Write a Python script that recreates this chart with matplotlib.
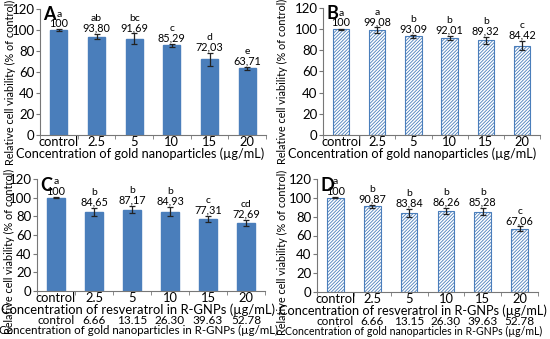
import matplotlib.pyplot as plt
import numpy as np

plt.rcParams['font.family'] = ['Lato', 'DejaVu Sans']
plt.rcParams['hatch.linewidth'] = 0.6

cats = ['control', '2.5', '5', '10', '15', '20']
gold_cats = ['control', '6.66', '13.15', '26.30', '39.63', '52.78']

vals_a = [100, 93.80, 91.69, 85.29, 72.03, 63.71]
err_a = [0.5, 2.5, 5.0, 1.5, 6.5, 1.5]
let_a = ['a', 'ab', 'bc', 'c', 'd', 'e']

vals_b = [100, 99.08, 93.09, 92.01, 89.32, 84.42]
err_b = [0.5, 2.5, 1.0, 2.0, 3.5, 4.5]
let_b = ['a', 'a', 'b', 'b', 'b', 'c']

vals_c = [100, 84.65, 87.17, 84.93, 77.31, 72.69]
err_c = [0.5, 4.0, 4.0, 5.0, 3.0, 3.0]
let_c = ['a', 'b', 'b', 'b', 'c', 'cd']

vals_d = [100, 90.87, 83.84, 86.26, 85.28, 67.06]
err_d = [0.5, 2.0, 4.5, 3.0, 4.0, 2.5]
let_d = ['a', 'b', 'b', 'b', 'b', 'c']

W, H = 550, 339
fig = plt.figure(figsize=(W / 100, H / 100), dpi=100)

blue = '#4a7ebb'


def px_axes(left, right, y0, y120):
    return fig.add_axes([left / W, (H - y0) / H, (right - left) / W, (y0 - y120) / H])


def panel(ax, vals, errs, lets, tag, hatched, xlabel, ylab_xy, xlab_x, xlab_size,
          second=False, second_size=7.8):
    x = np.arange(len(cats))
    if hatched:
        ax.bar(x, vals, width=0.45, color='white', edgecolor=blue, hatch='//////////', lw=0.8)
    else:
        ax.bar(x, vals, width=0.45, color=blue, edgecolor=blue)
    ax.errorbar(x, vals, yerr=errs, fmt='none', ecolor='#222222', elinewidth=0.9, capsize=2.2, capthick=0.9)
    for xi, v, e, l in zip(x, vals, errs, lets):
        top = v + e + 0.5
        ax.text(xi, top, f'{v:.2f}'.replace('.', ',') if v != 100 else '100',
                ha='center', va='bottom', fontsize=7.8)
        ax.annotate(l, (xi, top), xytext=(0, 7.5), textcoords='offset points',
                    ha='center', va='bottom', fontsize=7.5)
    ax.set_xlim(-0.5, len(cats) - 0.5)
    ax.set_ylim(0, 120)
    ax.set_yticks(range(0, 121, 20))
    ax.set_xticks(x)
    ax.set_xticklabels(cats, fontsize=9.3)
    ax.set_xticks(np.arange(-0.5, len(cats), 1), minor=True)
    ax.tick_params(axis='x', which='major', length=0, pad=1)
    ax.tick_params(axis='x', which='minor', length=3, color='#777777')
    ax.tick_params(axis='y', labelsize=9.5, length=3, pad=1, color='#777777')
    for s in ['top', 'right']:
        ax.spines[s].set_visible(False)
    for s in ['left', 'bottom']:
        ax.spines[s].set_color('#777777')
    ax.set_xlabel(xlabel, fontsize=xlab_size, labelpad=-1)
    ax.xaxis.label.set_x(xlab_x)
    ax.set_ylabel('Relative cell viability (% of control)', fontsize=7.8)
    ax.yaxis.set_label_coords(*ylab_xy)
    ax.text(0.015, 1.02, tag, transform=ax.transAxes, fontsize=13, fontweight='bold',
            ha='left', va='top')
    if second:
        for xi, g in zip(x, gold_cats):
            ax.annotate(g, (xi, 0), xycoords=('data', 'axes fraction'), xytext=(0, -21),
                        textcoords='offset points', ha='center', va='center', fontsize=8.5)
        ax.annotate('Concentration of gold nanoparticles in R-GNPs (\u00b5g/mL)', (xlab_x, 0),
                    xycoords='axes fraction', xytext=(0, -28.5), textcoords='offset points',
                    ha='center', va='center', fontsize=second_size)


gold_lab = 'Concentration of gold nanoparticles (\u00b5g/mL)'
res_lab = 'Concentration of resveratrol in R-GNPs (\u00b5g/mL)'

ax_a = px_axes(40, 266, 135, 9)
panel(ax_a, vals_a, err_a, let_a, 'A', False, gold_lab, (-0.108, 0.42), 0.442, 9.2)
ax_b = px_axes(323, 540, 135, 8)
panel(ax_b, vals_b, err_b, let_b, 'B', True, gold_lab, (-0.163, 0.42), 0.41, 9.2)
ax_c = px_axes(37, 265, 291, 179)
panel(ax_c, vals_c, err_c, let_c, 'C', False, res_lab, (-0.098, 0.35), 0.443, 9.4,
      second=True, second_size=8.3)
ax_d = px_axes(317, 538, 292, 179)
panel(ax_d, vals_d, err_d, let_d, 'D', True, res_lab, (-0.133, 0.35), 0.435, 9.2,
      second=True, second_size=7.6)

fig.savefig('out.png', dpi=100)
